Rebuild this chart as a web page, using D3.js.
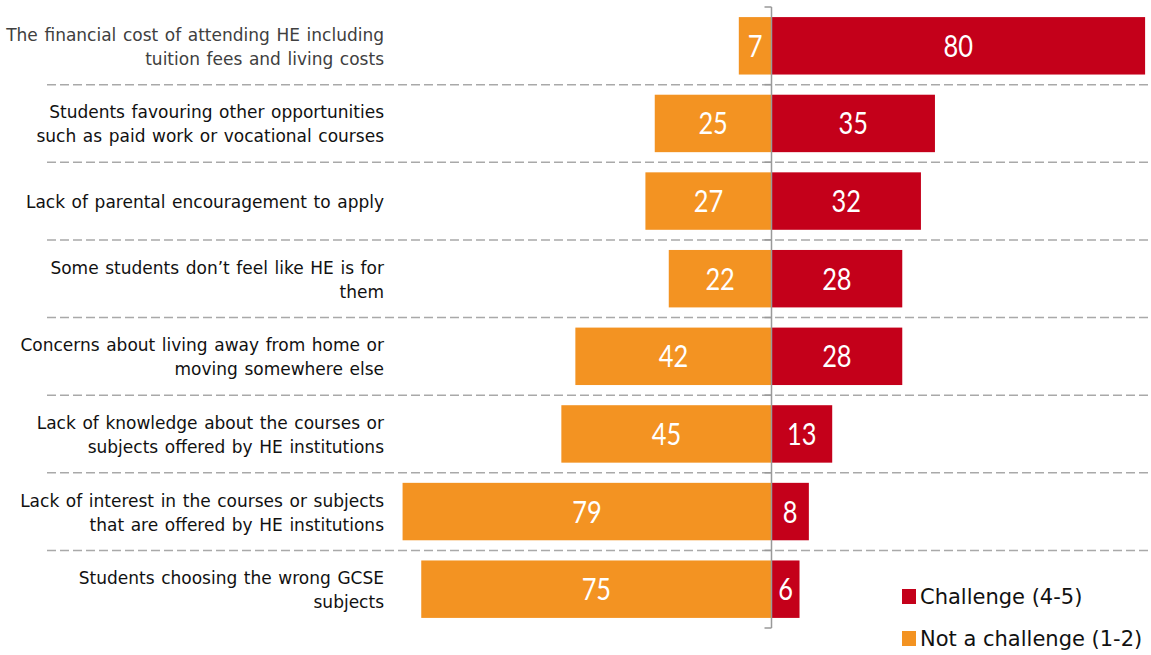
<!DOCTYPE html>
<html>
<head>
<meta charset="utf-8">
<script src="https://cdn.jsdelivr.net/npm/d3@7"></script>
<style>
  html, body { margin: 0; padding: 0; background: #fff; }
  svg { display: block; }
</style>
</head>
<body>
<svg id="chart" width="1151" height="655"></svg>
<script>
const categories = [
  "The financial cost of attending HE including|tuition fees and living costs",
  "Students favouring other opportunities|such as paid work or vocational courses",
  "Lack of parental encouragement to apply",
  "Some students don\u2019t feel like HE is for|them",
  "Concerns about living away from home or|moving somewhere else",
  "Lack of knowledge about the courses or|subjects offered by HE institutions",
  "Lack of interest in the courses or subjects|that are offered by HE institutions",
  "Students choosing the wrong GCSE|subjects"
];
const challenge = [80, 35, 32, 28, 28, 13, 8, 6];
const notChallenge = [7, 25, 27, 22, 42, 45, 79, 75];
const seriesNames = ["Challenge (4-5)", "Not a challenge (1-2)"];
const seriesColors = ["#c4001a", "#f39322"];

const svg = d3.select("#chart");
const cx = 771.5;
const pxPerUnit = 4.67;

const x = d3.scaleLinear().domain([-80, 80]).range([cx - 80 * pxPerUnit, cx + 80 * pxPerUnit]);
const y = d3.scaleBand().domain(d3.range(categories.length)).range([7, 628])
  .paddingInner(0.26).paddingOuter(0.13);

const step = y.step();
const bw = y.bandwidth();
const gap = step * y.paddingInner();

// dashed separators
const sepYs = d3.range(categories.length - 1).map(i => y(i) + bw + gap / 2);
svg.append("g").selectAll("line").data(sepYs).join("line")
  .attr("x1", 47).attr("x2", 1151)
  .attr("y1", d => d).attr("y2", d => d)
  .attr("stroke", "#a9a9a9").attr("stroke-width", 1.5)
  .attr("stroke-dasharray", "9,4");

// bars
const gBars = svg.append("g");
gBars.selectAll("rect.nc").data(notChallenge).join("rect").attr("class", "nc")
  .attr("x", d => x(-d)).attr("width", d => x(0) - x(-d))
  .attr("y", (d, i) => y(i)).attr("height", bw)
  .attr("fill", seriesColors[1]);
gBars.selectAll("rect.ch").data(challenge).join("rect").attr("class", "ch")
  .attr("x", x(0)).attr("width", d => x(d) - x(0))
  .attr("y", (d, i) => y(i)).attr("height", bw)
  .attr("fill", seriesColors[0]);

// value labels (narrowed horizontally to mimic a condensed face)
const valFont = "Lato, 'Open Sans', sans-serif";
function valueLabels(cls, data, sign) {
  gBars.selectAll("text." + cls).data(data).join("text").attr("class", cls)
    .attr("transform", (d, i) => {
      const mx = (x(sign * d) + x(0)) / 2;
      const my = y(i) + bw / 2 + 11;
      return `translate(${mx},${my}) scale(0.82,1)`;
    })
    .attr("text-anchor", "middle").attr("fill", "#fff")
    .attr("font-family", valFont).attr("font-size", 31)
    .text(d => d);
}
valueLabels("ncl", notChallenge, -1);
valueLabels("chl", challenge, 1);

// axis line and ticks
const tickYs = [7].concat(sepYs).concat([628]);
svg.append("line").attr("x1", cx).attr("x2", cx).attr("y1", 7).attr("y2", 628)
  .attr("stroke", "#999").attr("stroke-width", 1.5);
svg.append("g").selectAll("line").data(tickYs).join("line")
  .attr("x1", cx - 7).attr("x2", cx).attr("y1", d => d).attr("y2", d => d)
  .attr("stroke", "#999").attr("stroke-width", 1.5);

// category labels
const labFont = "'DejaVu Sans', Verdana, sans-serif";
const gLab = svg.append("g");
categories.forEach((c, i) => {
  const lines = c.split("|");
  const n = lines.length;
  const t = gLab.append("text")
    .attr("text-anchor", "end")
    .attr("font-family", labFont).attr("font-size", 17)
    .attr("word-spacing", 1.2)
    .attr("fill", i === 0 ? "#404040" : "#111");
  lines.forEach((ln, k) => {
    t.append("tspan").attr("x", 384)
      .attr("y", y(i) + bw / 2 + (k - (n - 1) / 2) * 24 + 7)
      .text(ln);
  });
});

// legend
const legend = svg.append("g");
const legYs = [589, 631];
seriesNames.forEach((s, i) => {
  legend.append("rect").attr("x", 902).attr("y", legYs[i]).attr("width", 14).attr("height", 15)
    .attr("fill", seriesColors[i]);
  legend.append("text").attr("x", 920).attr("y", legYs[i] + 15)
    .attr("font-family", labFont).attr("font-size", 21).attr("fill", "#111")
    .text(s);
});
</script>
</body>
</html>
